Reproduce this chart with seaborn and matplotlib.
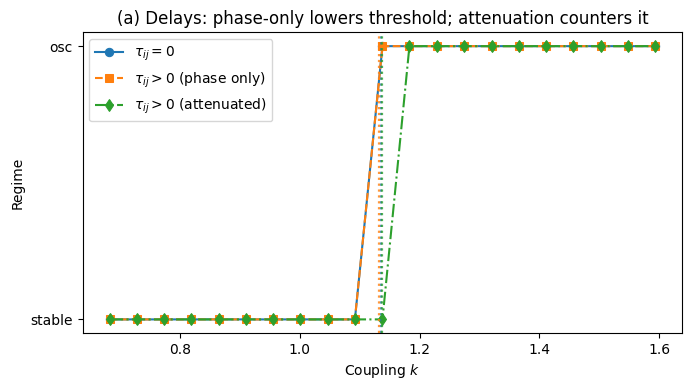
import matplotlib
matplotlib.use("Agg")
import matplotlib.pyplot as plt
import seaborn as sns
import pandas as pd

k_values = [0.683, 0.728, 0.774, 0.819, 0.865, 0.910, 0.956, 1.001, 1.047, 1.092,
            1.138, 1.183, 1.229, 1.274, 1.320, 1.365, 1.411, 1.456, 1.502, 1.547, 1.593]
regime_no_delay = [0]*10 + [1]*11
regime_phase = [0]*10 + [1]*11
regime_atten = [0]*11 + [1]*10
thresholds = [1.135, 1.133, 1.137]
labels = [r'$\tau_{ij} = 0$', r'$\tau_{ij} > 0$ (phase only)', r'$\tau_{ij} > 0$ (attenuated)']
ytick_labels = ['stable', 'osc']

colors = ['#1f77b4', '#ff7f0e', '#2ca02c']
markers = ['o', 's', 'd']
linestyles = ['-', '--', '-.']

fig, ax = plt.subplots(figsize=(6.9, 3.9), dpi=100)
series = [regime_no_delay, regime_phase, regime_atten]
for ys, lab, c, m, ls in zip(series, labels, colors, markers, linestyles):
    df = pd.DataFrame({'k': k_values, 'r': ys})
    sns.lineplot(data=df, x='k', y='r', ax=ax, color=c, marker=m, linestyle=ls,
                 label=lab, markersize=6, markeredgecolor=c, linewidth=1.5)
for t, c in zip(thresholds, colors):
    ax.axvline(t, color=c, linestyle=':', linewidth=1.6, alpha=0.8)

ax.set_yticks([0, 1])
ax.set_yticklabels(ytick_labels)
ax.set_xlabel('Coupling $k$')
ax.set_ylabel('Regime')
ax.set_title('(a) Delays: phase-only lowers threshold; attenuation counters it')
ax.legend(loc='upper left')
fig.subplots_adjust(left=0.1196, right=0.989, top=0.9167, bottom=0.146)
fig.savefig('out.png', dpi=100)
